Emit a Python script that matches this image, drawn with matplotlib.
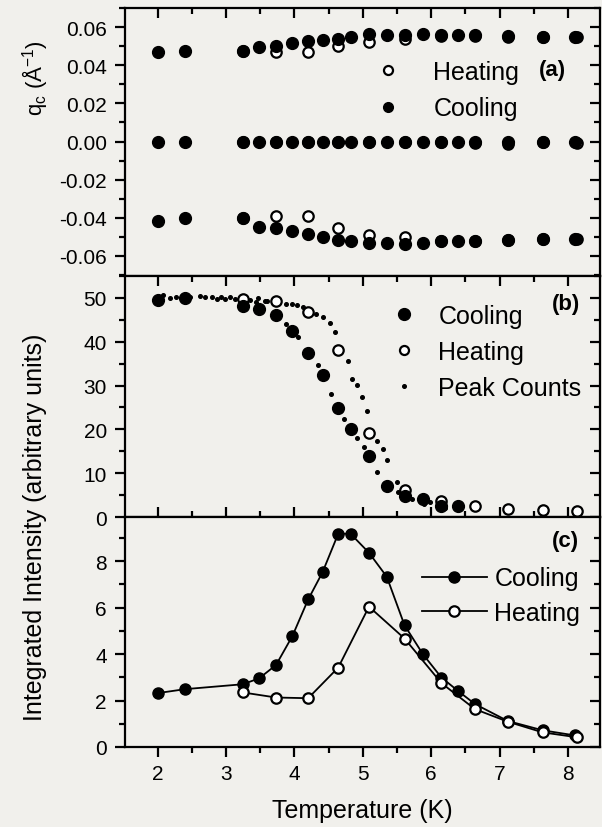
import matplotlib.pyplot as plt
from matplotlib.ticker import MultipleLocator, FormatStrFormatter

# Temperatures (K)
temp_cool = [2.0, 2.4, 3.24, 3.48, 3.73, 3.97, 4.2, 4.41, 4.64, 4.82,
             5.09, 5.35, 5.61, 5.88, 6.15, 6.39, 6.64, 7.12, 7.63, 8.1]
temp_heat = [3.24, 3.73, 4.2, 4.64, 5.09, 5.61, 6.15, 6.64, 7.12, 7.63, 8.13]

# (a) satellite positions q_c
qc_cool_up = [0.047, 0.0477, 0.0477, 0.0494, 0.0503, 0.0517, 0.0529, 0.0534, 0.054, 0.055,
              0.0564, 0.0558, 0.0558, 0.0564, 0.0558, 0.0558, 0.0558, 0.0552, 0.0547, 0.055]
qc_cool_mid = [0.0] * 20
qc_cool_low = [-0.0416, -0.0402, -0.0402, -0.0446, -0.0455, -0.0468, -0.0485, -0.0498, -0.0515, -0.0524,
               -0.0533, -0.0533, -0.0538, -0.0533, -0.0524, -0.0524, -0.0524, -0.0515, -0.051, -0.051]
qc_heat_up = [0.0477, 0.0468, 0.0468, 0.0503, 0.052, 0.054, 0.0555, 0.0555, 0.055, 0.0547, 0.055]
qc_heat_mid = [0.0, 0.0, 0.0, 0.0, 0.0, 0.0, 0.0, -0.0008, -0.0012, 0.0, -0.0008]
qc_heat_low = [-0.0402, -0.0388, -0.0393, -0.0454, -0.0492, -0.0503, -0.0524, -0.0524, -0.0518, -0.051, -0.0512]

# (b) integrated intensity of the main peak
temp_cool_b = temp_cool[:16]
int_cool_b = [49.6, 49.9, 48.2, 47.5, 46.0, 42.4, 37.4, 32.3, 24.8, 20.1,
              13.9, 7.1, 4.9, 4.0, 2.6, 2.6]
int_heat_b = [49.8, 49.2, 46.7, 38.1, 19.2, 6.2, 3.7, 2.6, 1.8, 1.7, 1.3]

peak_T1 = [2.08, 2.18, 2.27, 2.37, 2.47, 2.62, 2.69, 2.79, 2.86, 2.92, 2.98, 3.05, 3.13,
           3.35, 3.44, 3.57, 3.88, 4.05, 4.35, 4.54, 4.72, 4.91, 5.01, 5.20, 5.51, 5.72, 5.98]
peak_I1 = [50.6, 50.0, 50.3, 50.0, 50.3, 50.5, 50.1, 50.3, 49.8, 50.3, 49.8, 50.1, 49.8,
           49.5, 49.0, 49.2, 44.1, 41.0, 34.6, 28.1, 22.4, 18.0, 15.9, 10.2, 5.7, 4.1, 3.4]
peak_T2 = [3.47, 3.60, 3.88, 3.96, 4.03, 4.13, 4.32, 4.42, 4.52, 4.59, 4.79, 4.84,
           4.92, 4.99, 5.06, 5.20, 5.29, 5.36, 5.50, 5.65, 5.90, 6.20]
peak_I2 = [50.0, 49.4, 48.5, 48.5, 48.3, 47.9, 46.3, 45.6, 44.2, 42.2, 35.5, 31.5,
           30.2, 27.3, 24.1, 17.4, 15.5, 13.0, 8.0, 5.0, 3.0, 2.0]

# (c) integrated intensity of the satellites
int_cool_c = [2.32, 2.49, 2.70, 2.95, 3.53, 4.78, 6.35, 7.52, 9.18, 9.18,
              8.36, 7.33, 5.24, 3.99, 2.99, 2.42, 1.85, 1.12, 0.72, 0.5]
int_heat_c = [2.35, 2.13, 2.10, 3.42, 6.04, 4.67, 2.75, 1.63, 1.09, 0.63, 0.42]

plt.rcParams['font.family'] = ['Liberation Sans', 'DejaVu Sans']
plt.rcParams['axes.unicode_minus'] = False
bg = '#f1f0ec'

fig = plt.figure(figsize=(6.02, 8.28), dpi=100, facecolor=bg)
L, W = 125 / 602, 475 / 602
ax_a = fig.add_axes([L, 1 - 277 / 828, W, 268 / 828])
ax_b = fig.add_axes([L, 1 - 518 / 828, W, 241 / 828])
ax_c = fig.add_axes([L, 1 - 748 / 828, W, 230 / 828])

filled = dict(ls='none', marker='o', ms=8.5, mfc='black', mec='black')
hollow = dict(ls='none', marker='o', ms=7.5, mfc='white', mec='black', mew=1.6)

# (a)
for q in [qc_heat_up, qc_heat_mid, qc_heat_low]:
    ax_a.plot(temp_heat, q, **hollow)
for q in [qc_cool_up, qc_cool_mid, qc_cool_low]:
    ax_a.plot(temp_cool, q, **filled)
h1, = ax_a.plot([], [], ls='none', marker='o', ms=6.5, mfc='white', mec='black', mew=1.6, label='Heating')
h2, = ax_a.plot([], [], ls='none', marker='o', ms=7, mfc='black', mec='black', label='Cooling')
ax_a.legend(handles=[h1, h2], loc='upper left', bbox_to_anchor=(0.528, 0.806), frameon=False,
            fontsize=18, handlelength=1.0, handletextpad=1.3, labelspacing=0.5,
            borderpad=0, borderaxespad=0)
ax_a.text(0.899, 0.769, '(a)', transform=ax_a.transAxes, ha='center', va='center',
          fontsize=16, fontweight='bold')
ax_a.set_ylim(-0.0705, 0.07)
ax_a.yaxis.set_major_locator(MultipleLocator(0.02))
ax_a.yaxis.set_minor_locator(MultipleLocator(0.01))
ax_a.yaxis.set_major_formatter(FormatStrFormatter('%.2f'))

# (b)
ax_b.plot(peak_T1, peak_I1, ls='none', marker='o', ms=2.6, color='black')
ax_b.plot(peak_T2, peak_I2, ls='none', marker='o', ms=2.6, color='black')
ax_b.plot(temp_heat, int_heat_b, **hollow)
ax_b.plot(temp_cool_b, int_cool_b, **filled)
g1, = ax_b.plot([], [], ls='none', marker='o', ms=8.5, color='black', label='Cooling')
g2, = ax_b.plot([], [], ls='none', marker='o', ms=6.5, mfc='white', mec='black', mew=1.6, label='Heating')
g3, = ax_b.plot([], [], ls='none', marker='o', ms=2.6, color='black', label='Peak Counts')
ax_b.legend(handles=[g1, g2, g3], loc='upper left', bbox_to_anchor=(0.56, 0.884), frameon=False,
            fontsize=18, handlelength=1.0, handletextpad=0.9, labelspacing=0.48,
            borderpad=0, borderaxespad=0)
ax_b.text(0.928, 0.884, '(b)', transform=ax_b.transAxes, ha='center', va='center',
          fontsize=16, fontweight='bold')
ax_b.set_ylim(0, 55)
ax_b.yaxis.set_major_locator(MultipleLocator(10))
ax_b.yaxis.set_minor_locator(MultipleLocator(5))

# (c)
ax_c.plot(temp_cool, int_cool_c, '-', color='black', lw=1.3, marker='o', ms=8,
          mfc='black', mec='black', label='Cooling')
ax_c.plot(temp_heat, int_heat_c, '-', color='black', lw=1.3, marker='o', ms=7.5,
          mfc='white', mec='black', mew=1.6, label='Heating')
ax_c.legend(loc='upper left', bbox_to_anchor=(0.625, 0.785), frameon=False,
            fontsize=18, handlelength=2.6, handletextpad=0.3, labelspacing=0.42,
            borderpad=0, borderaxespad=0)
ax_c.text(0.928, 0.896, '(c)', transform=ax_c.transAxes, ha='center', va='center',
          fontsize=16, fontweight='bold')
ax_c.set_ylim(0, 9.9)
ax_c.yaxis.set_major_locator(MultipleLocator(2))
ax_c.yaxis.set_minor_locator(MultipleLocator(1))
ax_c.set_xlabel('Temperature (K)', fontsize=18, labelpad=11)

fig.text(35 / 602, 1 - 78 / 828, r'q$_\mathregular{c}$ (Å$^\mathregular{-1}$)', rotation=90,
         ha='center', va='center', fontsize=16)
fig.text(35 / 602, 1 - 527 / 828, 'Integrated Intensity (arbitrary units)', rotation=90,
         ha='center', va='center', fontsize=18)

for ax in [ax_a, ax_b, ax_c]:
    ax.set_facecolor(bg)
    ax.set_xlim(1.52, 8.47)
    ax.xaxis.set_major_locator(MultipleLocator(1))
    ax.xaxis.set_minor_locator(MultipleLocator(0.5))
    for s in ax.spines.values():
        s.set_linewidth(1.6)
    ax.tick_params(axis='y', which='both', left=True, right=True, labelsize=15, width=1.6, pad=6)
    ax.tick_params(axis='y', which='major', direction='out', length=7)
    ax.tick_params(axis='y', which='minor', direction='out', length=4)
    ax.tick_params(axis='x', which='both', top=True, bottom=False, labelbottom=False,
                   direction='in', width=1.6)
    ax.tick_params(axis='x', which='major', length=7)
    ax.tick_params(axis='x', which='minor', length=4)
    # right side ticks point inward
    for t in ax.yaxis.get_major_ticks() + ax.yaxis.get_minor_ticks():
        t.tick2line.set_marker(0)
    ax.yaxis.set_tick_params(which='both', labelright=False)

ax_b.set_yticks([0, 10, 20, 30, 40, 50])
ax_c.tick_params(axis='x', which='both', bottom=True, labelbottom=True, labelsize=15, pad=5)
ax_c.tick_params(axis='x', which='major', direction='out', length=7)
ax_c.tick_params(axis='x', which='minor', direction='out', length=4)

plt.savefig('out.png', dpi=100, facecolor=bg)
